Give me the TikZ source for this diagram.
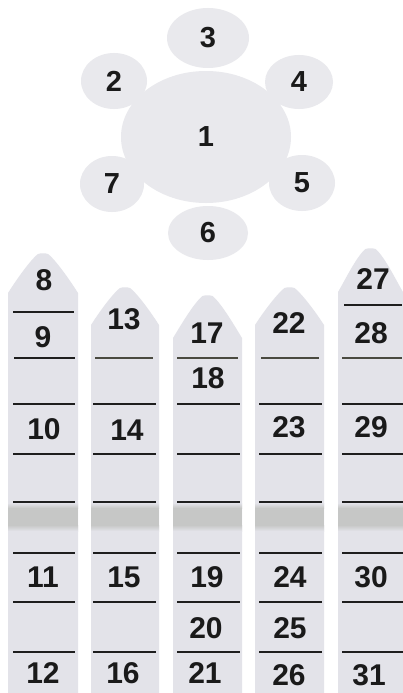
\documentclass[tikz,border=0pt]{standalone}
\usepackage{fontspec}
\setmainfont{Liberation Sans}
\usetikzlibrary{shapes.geometric,positioning}
\definecolor{panelgrey}{HTML}{E3E3E9}
\definecolor{bandgrey}{HTML}{C6C7C6}
\definecolor{rulegrey}{HTML}{1E1E1E}
\definecolor{ruleolive}{HTML}{4A4A40}
\definecolor{numgrey}{HTML}{1A1A1A}

\begin{document}
\begin{tikzpicture}[x=1pt, y=-1pt,
    lobe/.style={ellipse, fill=panelgrey!80!white, inner sep=0pt, font=\fontsize{29}{29}\bfseries, text=numgrey},
    num/.style={inner sep=0pt, font=\fontsize{30}{30}\bfseries, text=numgrey},
    rule/.style={line width=2.6pt, rulegrey},
    softrule/.style={line width=2.6pt, ruleolive}]

    \useasboundingbox (0,0) rectangle (403,693);
    \fill[white] (0,0) rectangle (403,693);

    % flower
    \node[lobe, minimum width=82pt, minimum height=60pt] (n3) at (208,38) {3};
    \node[lobe, minimum width=66pt, minimum height=56pt] (n2) at (114,81) {2};
    \node[lobe, minimum width=68pt, minimum height=54pt] (n4) at (299,82) {4};
    \node[lobe, minimum width=64pt, minimum height=56pt] (n7) at (112,184) {7};
    \node[lobe, minimum width=66pt, minimum height=56pt] (n5) at (302,183) {5};
    \node[lobe, minimum width=80pt, minimum height=54pt] (n6) at (208,233) {6};
    \node[lobe, minimum width=170pt, minimum height=132pt] (n1) at (206,137) {1};

    % columns: left, right, shoulder, apex
    \foreach \xa/\xb/\ys/\yt in {8/78/293/253, 91/159/325/287, 173/242/338/295, 255/324/325/287, 338/403/292/248} {
        \fill[panelgrey] (\xa,693) -- (\xa,\ys)
            .. controls ({\xa+5},{\ys-8}) and ({(\xa+\xb)/2-14},{\yt+8}) .. ({(\xa+\xb)/2-5},{\yt+1})
            .. controls ({(\xa+\xb)/2-2},\yt) and ({(\xa+\xb)/2+2},\yt) .. ({(\xa+\xb)/2+5},{\yt+1})
            .. controls ({(\xa+\xb)/2+14},{\yt+8}) and ({\xb-5},{\ys-8}) .. (\xb,\ys) -- (\xb,693) -- cycle;
        \shade[top color=panelgrey, bottom color=bandgrey] (\xa,503) rectangle (\xb,508);
        \fill[bandgrey] (\xa,508) rectangle (\xb,525);
        \shade[top color=bandgrey, bottom color=panelgrey] (\xa,525) rectangle (\xb,531);
    }

    % rules
    \foreach \xa/\xb in {13/75, 93/156, 177/240, 259/322, 342/403} {
        \foreach \yy in {404,454,502,553,602,652}
            \draw[rule] (\xa,\yy) -- (\xb,\yy);
    }
    \draw[rule] (14,358) -- (75,358);
    \foreach \xa/\xb in {95/153, 177/238, 261/319, 342/402}
        \draw[softrule] (\xa,358) -- (\xb,358);
    \draw[rule] (13,312) -- (74,312);
    \draw[rule] (344,305) -- (402,305);

    % numbers
    \foreach \lab/\xx/\yy in {8/44/280, 9/43/337, 10/44/429, 11/43/577, 12/43/673,
        13/124/319, 14/127/430, 15/124/577, 16/123/673,
        17/207/333, 18/208/378, 19/207/577, 20/206/628, 21/205/673,
        22/289/323, 23/289/427, 24/290/577, 25/290/628, 26/289/675,
        27/373/279, 28/371/333, 29/371/427, 30/371/577, 31/369/675}
        \node[num] (n\lab) at (\xx,\yy) {\lab};
\end{tikzpicture}
\end{document}
